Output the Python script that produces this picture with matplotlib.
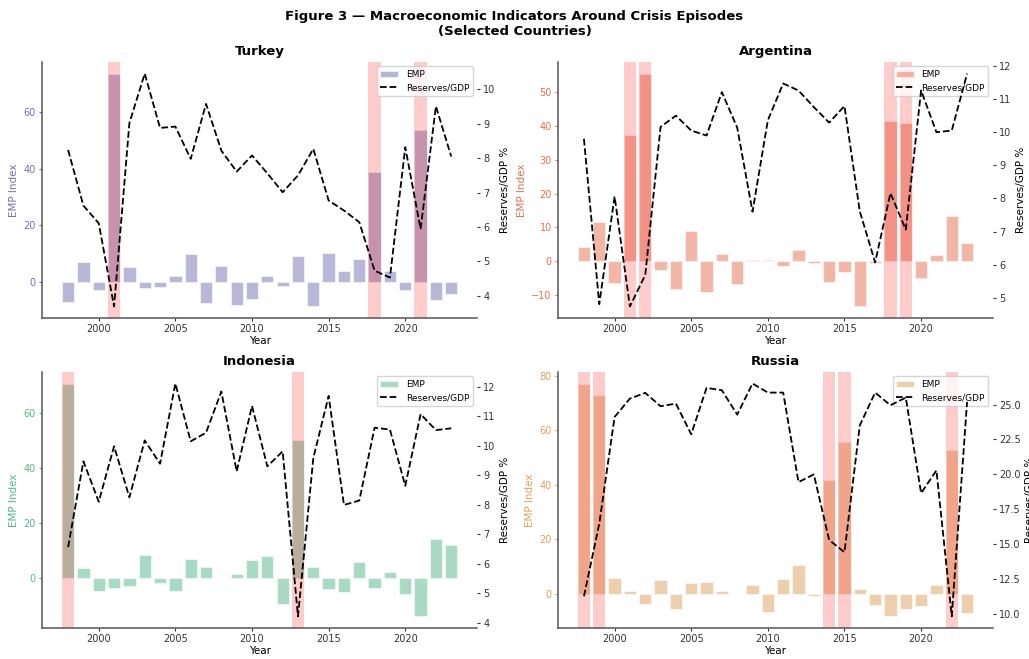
import numpy as np
import matplotlib
matplotlib.use("Agg")
import matplotlib.pyplot as plt

years = list(range(1998, 2024))

countries = ["Turkey", "Argentina", "Indonesia", "Russia"]
colors = {
    "Turkey": "#7570b3",
    "Argentina": "#e76f51",
    "Indonesia": "#52b788",
    "Russia": "#dda15e",
}

emp_turkey = [-7.1, 7.1, -3.0, 73.6, 5.0, -2.2, -1.8, 2.0, 9.7, -7.5, 5.6, -8.4, -6.2,
              1.8, -1.5, 9.0, -8.8, 10.2, 3.9, 7.9, 38.6, 3.6, -3.1, 53.7, -6.5, -4.4]
res_turkey = [8.24, 6.62, 6.11, 3.69, 9.02, 10.46, 8.88, 8.92, 7.98, 9.58, 8.22, 7.61, 8.08,
              7.56, 7.01, 7.50, 8.27, 6.77, 6.48, 6.14, 4.73, 4.53, 8.32, 5.94, 9.51, 8.05]
crisis_turkey = [2001, 2018, 2021]

emp_argentina = [4.2, 11.7, -6.6, 37.2, 55.5, -2.5, -8.1, 8.8, -9.2, 2.1, -6.7, 0.3, 0.4,
                 -1.3, 3.2, -0.4, -6.1, -3.1, -13.4, -0.4, 41.6, 41.0, -5.0, 1.8, 13.5, 5.3]
res_argentina = [9.80, 4.81, 8.06, 4.74, 5.69, 10.16, 10.50, 10.05, 9.90, 11.21, 10.14, 7.60, 10.36,
                 11.47, 11.26, 10.76, 10.29, 10.79, 7.61, 6.07, 8.16, 7.06, 11.26, 10.00, 10.05, 11.77]
crisis_argentina = [2001, 2002, 2018, 2019]

emp_indonesia = [70.8, 3.9, -4.4, -3.6, -2.7, 8.5, -1.7, -4.6, 7.2, 4.1, 0.1, 1.7, 6.8,
                 8.3, -9.2, 50.2, 4.3, -3.8, -5.1, 5.8, -3.4, 2.4, -5.8, -13.8, 14.2, 12.0]
res_indonesia = [6.56, 9.47, 8.10, 9.98, 8.25, 10.18, 9.39, 12.11, 10.15, 10.44, 11.84, 9.13, 11.35,
                 9.30, 9.81, 4.21, 9.58, 11.69, 7.99, 8.14, 10.61, 10.55, 8.64, 11.07, 10.53, 10.59]
crisis_indonesia = [1998, 2013]

emp_russia = [77.1, 72.9, 5.6, 0.9, -3.9, 4.9, -5.6, 3.8, 4.3, 1.0, 0.0, 3.3, -6.6,
              5.3, 10.5, -0.7, 41.8, 55.7, 1.8, -4.3, -8.3, -5.5, -4.6, 3.2, 52.8, -6.9]
res_russia = [11.25, 16.45, 24.11, 25.43, 25.84, 24.88, 25.07, 22.87, 26.20, 26.03, 24.28, 26.51, 25.86,
              25.86, 19.44, 19.99, 15.29, 14.41, 23.51, 25.86, 24.95, 25.50, 18.65, 20.28, 9.81, 25.19]
crisis_russia = [1998, 1999, 2014, 2015, 2022]

emp = {"Turkey": emp_turkey, "Argentina": emp_argentina,
       "Indonesia": emp_indonesia, "Russia": emp_russia}
reserves = {"Turkey": res_turkey, "Argentina": res_argentina,
            "Indonesia": res_indonesia, "Russia": res_russia}
crises = {"Turkey": crisis_turkey, "Argentina": crisis_argentina,
          "Indonesia": crisis_indonesia, "Russia": crisis_russia}

fig, axes = plt.subplots(2, 2, figsize=(10.29, 6.59), dpi=100)
fig.subplots_adjust(left=0.041, right=0.965, top=0.906, bottom=0.047, wspace=0.186, hspace=0.21)
fig.suptitle("Figure 3 \u2014 Macroeconomic Indicators Around Crisis Episodes\n(Selected Countries)",
             fontsize=9.5, fontweight="bold", y=0.985)

for ax, name in zip(axes.flat, countries):
    c = colors[name]
    ax.bar(years, emp[name], width=0.8, color=c, alpha=0.5, edgecolor="white",
           linewidth=0.8, label="EMP")
    # shade crisis years
    for yr in crises[name]:
        ax.axvspan(yr - 0.4, yr + 0.4, color="red", alpha=0.2, lw=0)
    ax.set_title(name, fontsize=9.5, fontweight="bold", pad=5)
    ax.set_xlabel("Year", fontsize=7.5, labelpad=1)
    ax.set_ylabel("EMP Index", fontsize=7.5, color=c, labelpad=3)
    ax.tick_params(axis="y", colors=c, labelsize=7, length=2.5, pad=2)
    ax.tick_params(axis="x", labelsize=7, colors="#333333", length=2.5, pad=2)
    ax.spines["top"].set_visible(False)
    ax.spines["right"].set_visible(False)
    for s in ("left", "bottom"):
        ax.spines[s].set_color("#555555")
        ax.spines[s].set_linewidth(1.1)

    ax2 = ax.twinx()
    ax2.plot(years, reserves[name], color="black", linestyle="--", linewidth=1.3,
             label="Reserves/GDP")
    ax2.set_ylabel("Reserves/GDP %", fontsize=7.5, labelpad=3)
    ax2.tick_params(axis="y", labelsize=7, colors="#333333", length=2.5, pad=2)
    for s in ax2.spines.values():
        s.set_visible(False)

    h1, l1 = ax.get_legend_handles_labels()
    h2, l2 = ax2.get_legend_handles_labels()
    ax.legend(h1 + h2, l1 + l2, loc="upper right", fontsize=6.5, framealpha=0.8)

plt.savefig("out.png", dpi=100)
